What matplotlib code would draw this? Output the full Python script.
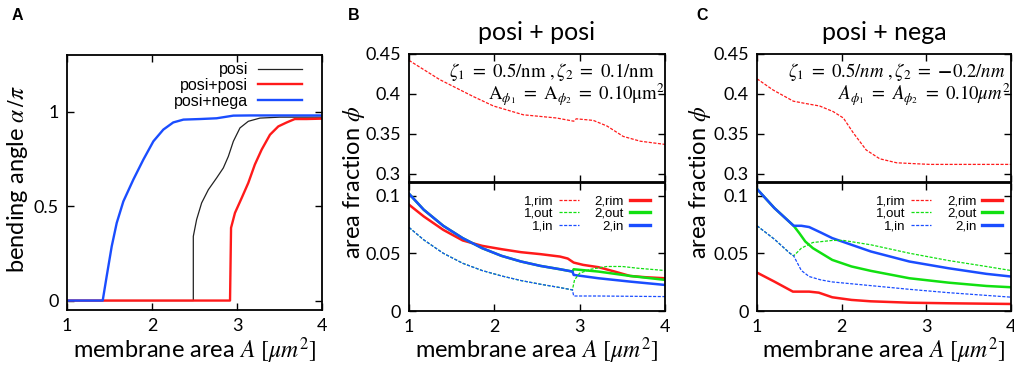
import matplotlib
matplotlib.use("Agg")
import matplotlib.pyplot as plt
from matplotlib.lines import Line2D

plt.rcParams['font.family'] = ['Lato', 'DejaVu Sans']
plt.rcParams['mathtext.fontset'] = 'stix'

# ---------------- data ----------------
# Panel A: bending angle alpha/pi vs membrane area
A_posi_x = [1.0, 2.486, 2.486, 2.525, 2.584, 2.663, 2.76, 2.839, 2.898, 2.957, 3.035, 3.133, 3.27, 3.506, 4.0]
A_posi_y = [0.0, 0.0, 0.340, 0.429, 0.517, 0.587, 0.649, 0.702, 0.763, 0.843, 0.914, 0.949, 0.966, 0.971, 0.971]
A_pp_x = [1.0, 2.918, 2.93, 2.976, 3.055, 3.133, 3.21, 3.29, 3.388, 3.486, 3.585, 3.68, 3.82, 4.0]
A_pp_y = [0.0, 0.0, 0.385, 0.464, 0.543, 0.623, 0.720, 0.799, 0.878, 0.922, 0.943, 0.961, 0.961, 0.963]
A_pn_x = [1.0, 1.42, 1.467, 1.526, 1.585, 1.663, 1.78, 1.898, 2.016, 2.133, 2.25, 2.37, 2.565, 2.76, 2.957, 3.15, 4.0]
A_pn_y = [0.0, 0.0, 0.129, 0.287, 0.411, 0.525, 0.640, 0.746, 0.843, 0.905, 0.943, 0.958, 0.961, 0.965, 0.979, 0.98, 0.98]

# Panel B (posi + posi)
B_rim1_x = [1.0, 1.36, 1.75, 1.99, 2.34, 2.73, 2.93, 2.96, 3.16, 3.32, 3.51, 3.71, 4.0]
B_rim1_y = [0.442, 0.418, 0.397, 0.385, 0.374, 0.370, 0.366, 0.369, 0.367, 0.360, 0.347, 0.341, 0.337]
B_rim2_x = [1.0, 1.173, 1.401, 1.629, 1.857, 2.085, 2.313, 2.541, 2.77, 2.86, 2.93, 3.04, 3.22, 3.41, 3.59, 3.77, 4.0]
B_rim2_y = [0.0922, 0.0820, 0.0704, 0.0612, 0.0565, 0.0536, 0.0510, 0.0493, 0.0472, 0.0455, 0.0420, 0.0400, 0.0380, 0.0342, 0.0304, 0.0293, 0.0284]
B_in2_x = [1.0, 1.173, 1.401, 1.629, 1.857, 2.085, 2.313, 2.541, 2.77, 2.915, 2.93, 3.22, 3.59, 4.0]
B_in2_y = [0.1017, 0.0878, 0.0739, 0.0632, 0.0545, 0.0478, 0.0429, 0.0391, 0.0362, 0.0342, 0.0313, 0.0284, 0.0255, 0.0226]
B_out2_x = [1.0, 1.173, 1.401, 1.629, 1.857, 2.085, 2.313, 2.541, 2.77, 2.915, 2.93, 3.22, 3.59, 4.0]
B_out2_y = [0.1017, 0.0878, 0.0739, 0.0632, 0.0545, 0.0478, 0.0429, 0.0391, 0.0362, 0.0342, 0.0362, 0.0342, 0.0304, 0.0270]
B_in1_x = [1.0, 1.173, 1.401, 1.629, 1.857, 2.085, 2.313, 2.541, 2.77, 2.915, 2.93, 3.22, 4.0]
B_in1_y = [0.0725, 0.0617, 0.0501, 0.0414, 0.0351, 0.0304, 0.0264, 0.0232, 0.0203, 0.0183, 0.0130, 0.0130, 0.0125]
B_out1_x = [1.0, 1.173, 1.401, 1.629, 1.857, 2.085, 2.313, 2.541, 2.77, 2.915, 2.94, 3.0, 3.13, 3.32, 3.5, 3.68, 4.0]
B_out1_y = [0.0725, 0.0617, 0.0501, 0.0414, 0.0351, 0.0304, 0.0264, 0.0232, 0.0203, 0.0183, 0.0270, 0.0328, 0.0362, 0.0386, 0.0386, 0.0371, 0.0351]

# Panel C (posi + nega)
C_rim1_x = [1.0, 1.19, 1.43, 1.58, 1.74, 1.90, 2.02, 2.14, 2.29, 2.45, 2.65, 3.04, 4.0]
C_rim1_y = [0.419, 0.405, 0.391, 0.388, 0.385, 0.378, 0.370, 0.351, 0.330, 0.319, 0.314, 0.312, 0.312]
C_in2_x = [1.0, 1.205, 1.433, 1.524, 1.616, 1.752, 1.889, 2.117, 2.345, 2.80, 3.26, 3.71, 4.0]
C_in2_y = [0.1058, 0.0893, 0.0739, 0.0739, 0.0728, 0.0681, 0.0632, 0.0574, 0.0516, 0.0429, 0.0371, 0.0322, 0.0299]
C_out2_x = [1.0, 1.205, 1.433, 1.50, 1.57, 1.66, 1.889, 2.117, 2.345, 2.80, 3.26, 3.71, 4.0]
C_out2_y = [0.1058, 0.0893, 0.0739, 0.0675, 0.0603, 0.0545, 0.0443, 0.0386, 0.0348, 0.0284, 0.0246, 0.0217, 0.0206]
C_in1_x = [1.0, 1.205, 1.388, 1.433, 1.524, 1.616, 1.752, 1.889, 2.345, 2.80, 3.26, 4.0]
C_in1_y = [0.0739, 0.0623, 0.0501, 0.0478, 0.0351, 0.0299, 0.0270, 0.0252, 0.0220, 0.0188, 0.0159, 0.0120]
C_out1_x = [1.0, 1.205, 1.388, 1.433, 1.524, 1.66, 1.889, 2.02, 2.345, 2.80, 3.26, 3.71, 4.0]
C_out1_y = [0.0739, 0.0623, 0.0501, 0.0478, 0.0545, 0.0594, 0.0612, 0.0612, 0.0574, 0.0501, 0.0438, 0.0386, 0.0351]
C_rim2_x = [1.0, 1.205, 1.424, 1.616, 1.73, 1.889, 2.117, 2.345, 2.8, 3.26, 4.0]
C_rim2_y = [0.0333, 0.0255, 0.0168, 0.0168, 0.0159, 0.0119, 0.0096, 0.0084, 0.0072, 0.0067, 0.0061]

x_ticks = [1, 2, 3, 4]
A_yticks = [0, 0.5, 1]
A_yticklabels = ['0', '0.5', '1']
top_yticks = [0.3, 0.35, 0.4, 0.45]
top_yticklabels = ['0.3', '0.35', '0.4', '0.45']
bot_yticks = [0, 0.05, 0.1]
bot_yticklabels = ['0', '0.05', '0.1']

RED = '#ff1a1a'
GREEN = '#11e011'
BLUE = '#1a4dff'
DASH = (0, (2.5, 1.2))

# ---------------- figure ----------------
W, H = 1014, 365
fig = plt.figure(figsize=(W / 100, H / 100), dpi=100)

def frac(l, t, r, b):
    return [l / W, 1 - b / H, (r - l) / W, (b - t) / H]

def style(ax):
    ax.tick_params(direction='in', top=True, right=True, length=5, width=1,
                   labelsize=13, pad=6)
    for s in ax.spines.values():
        s.set_linewidth(1.3)
    ax.set_xlim(1, 4)
    ax.set_xticks(x_ticks)

# Panel A
axA = fig.add_axes(frac(67, 55, 322, 310))
style(axA)
axA.plot(A_posi_x, A_posi_y, color='#222222', lw=0.9, label='posi')
axA.plot(A_pp_x, A_pp_y, color=RED, lw=1.7, label='posi+posi')
axA.plot(A_pn_x, A_pn_y, color=BLUE, lw=1.7, label='posi+nega')
axA.set_ylim(-0.05, 1.3)
axA.set_yticks(A_yticks)
axA.set_yticklabels(A_yticklabels)
axA.legend(loc='upper right', bbox_to_anchor=(0.922, 0.972), frameon=False,
           markerfirst=False, prop={'family': 'Liberation Sans', 'size': 11.5},
           handlelength=2.75, labelspacing=0.05, borderaxespad=0, borderpad=0,
           handletextpad=0.63)

def panel(l, r, rim1, outs, ins, rim2, leg_right):
    axT = fig.add_axes(frac(l, 54, r, 182))
    axB = fig.add_axes(frac(l, 183, r, 311))
    style(axT)
    style(axB)
    axT.set_xticklabels([])
    axT.set_ylim(0.29, 0.45)
    axT.set_yticks(top_yticks)
    axT.set_yticklabels(top_yticklabels)
    axB.set_ylim(0, 0.111)
    axB.set_yticks(bot_yticks)
    axB.set_yticklabels(bot_yticklabels)
    axT.plot(rim1[0], rim1[1], color=RED, lw=0.9, ls=DASH)
    axB.plot(rim2[0], rim2[1], color=RED, lw=1.8)
    axB.plot(outs[1][0], outs[1][1], color=GREEN, lw=1.8)
    axB.plot(ins[1][0], ins[1][1], color=BLUE, lw=1.8)
    axB.plot(outs[0][0], outs[0][1], color=GREEN, lw=0.9, ls=DASH)
    axB.plot(ins[0][0], ins[0][1], color=BLUE, lw=0.9, ls=DASH)
    handles = [
        Line2D([], [], color=RED, lw=0.9, ls=DASH),
        Line2D([], [], color=GREEN, lw=0.9, ls=DASH),
        Line2D([], [], color=BLUE, lw=0.9, ls=DASH),
        Line2D([], [], color=RED, lw=2.4),
        Line2D([], [], color=GREEN, lw=2.4),
        Line2D([], [], color=BLUE, lw=2.4),
    ]
    labels = ['1,rim', '1,out', '1,in', '2,rim', '2,out', '2,in']
    axB.legend(handles, labels, ncol=2, loc='upper right',
               bbox_to_anchor=(leg_right, 0.905), frameon=False,
               markerfirst=False, prop={'family': 'Liberation Sans', 'size': 9.5},
               handlelength=1.5, labelspacing=0.02, columnspacing=1.2,
               handletextpad=0.45, borderaxespad=0, borderpad=0)
    return axT, axB

bT, bB = panel(409, 665,
               (B_rim1_x, B_rim1_y),
               ((B_out1_x, B_out1_y), (B_out2_x, B_out2_y)),
               ((B_in1_x, B_in1_y), (B_in2_x, B_in2_y)),
               (B_rim2_x, B_rim2_y), 0.941)
cT, cB = panel(757, 1011,
               (C_rim1_x, C_rim1_y),
               ((C_out1_x, C_out1_y), (C_out2_x, C_out2_y)),
               ((C_in1_x, C_in1_y), (C_in2_x, C_in2_y)),
               (C_rim2_x, C_rim2_y), 0.965)

# annotations
SP = r'\ '
FS = 13.5
bT.text(0.96, 0.86, r'$\zeta_1' + SP + '=' + SP + r'0.5/\mathrm{nm}\ ,\zeta_2' + SP + '=' + SP + r'0.1/\mathrm{nm}$',
        transform=bT.transAxes, ha='right', va='center', fontsize=FS)
bT.text(1.0, 0.68, r'$\mathrm{A}_{\phi_1}' + SP + '=' + SP + r'\mathrm{A}_{\phi_2}' + SP + '=' + SP + r'0.10\mathrm{\mu m}^2$',
        transform=bT.transAxes, ha='right', va='center', fontsize=FS)
cT.text(0.976, 0.86, r'$\zeta_1' + SP + '=' + SP + r'0.5/nm\ ,\zeta_2' + SP + '=' + SP + r'\mathbf{-}0.2/nm$',
        transform=cT.transAxes, ha='right', va='center', fontsize=FS)
cT.text(1.0, 0.68, r'$A_{\phi_1}' + SP + '=' + SP + r'A_{\phi_2}' + SP + '=' + SP + r'0.10\mu m^2$',
        transform=cT.transAxes, ha='right', va='center', fontsize=FS)

# titles
fig.text(537 / W, 1 - 32 / H, 'posi + posi', ha='center', va='center', fontsize=18)
fig.text(884 / W, 1 - 32 / H, 'posi + nega', ha='center', va='center', fontsize=18)

# axis labels
xl = r'membrane area $A\ [\mu m^2]$'
for cx in [(67 + 322) / 2, (409 + 665) / 2, (757 + 1011) / 2]:
    fig.text(cx / W, 1 - 351 / H, xl, ha='center', va='center', fontsize=17)
fig.text(18 / W, 1 - 179 / H, r'bending angle $\alpha\,/\pi$', rotation=90,
         ha='center', va='center', fontsize=17)
fig.text(354 / W, 1 - 182 / H, r'area fraction $\phi$', rotation=90,
         ha='center', va='center', fontsize=17)
fig.text(700 / W, 1 - 182 / H, r'area fraction $\phi$', rotation=90,
         ha='center', va='center', fontsize=17)

# panel letters
for x, s in [(17, 'A'), (354, 'B'), (702, 'C')]:
    fig.text(x / W, 1 - 16 / H, s, ha='center', va='center', fontsize=11.5,
             fontweight='bold', family='Liberation Sans')

fig.savefig('out.png', dpi=100)
